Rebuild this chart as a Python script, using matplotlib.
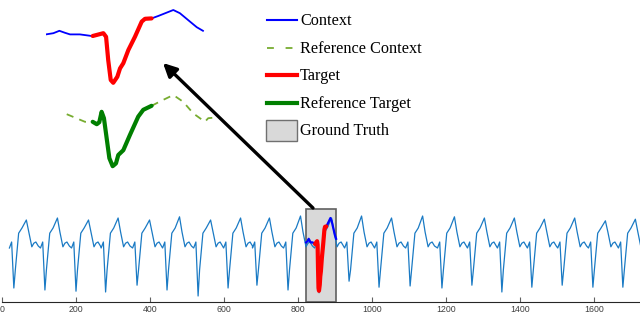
import numpy as np
import matplotlib.pyplot as plt
from matplotlib.lines import Line2D
from matplotlib.patches import Rectangle

# ---- long ECG trace: one entry per beat (trough position, trough depth, peak height)
beat_t = [32, 116, 200, 280, 365, 446, 530, 611, 689, 773, 857,
          938, 1019, 1103, 1189, 1270, 1351, 1432, 1514, 1597, 1678]
beat_min = [-1.0, -1.05, -1.08, -1.1, -0.93, -1.05, -1.2, -1.0, -0.93, -1.05, -1.12,
            -0.83, -0.98, -0.95, -1.0, -0.93, -1.1, -0.98, -0.93, -0.98, -0.98]
beat_max = [0.7, 0.75, 0.7, 0.75, 0.7, 0.78, 0.7, 0.75, 0.75, 0.8, 0.75,
            0.8, 0.75, 0.8, 0.78, 0.75, 0.75, 0.72, 0.75, 0.68, 0.72]
# shape of a beat around its trough (offset, value); trough / peak filled per beat
pre_dt, pre_v = [-12, -6], [0.0, 0.15]
rise_dt, rise_v = [4, 13, 22], [-0.55, 0.37, 0.5]
peak_dt = 33.8
tail_dt, tail_v = [40.5, 48.6, 54, 59.5, 66], [0.4, 0.03, 0.12, 0.15, 0.05]

# ---- ground truth window and zoomed pieces (offset inside window, value)
gt_start, gt_end = 822, 903
ctx1_t = [0, 3.8, 6.9, 9.8, 12.4, 17.5, 23.6, 24.1]
ctx1_v = [0.14, 0.17, 0.23, 0.18, 0.14, 0.14, 0.10, 0.10]
tgt_t = [24.1, 29.6, 31.0, 32.1, 33.4, 34.7, 36.8, 38.2, 39.9, 42.5, 45.9, 49.4, 51.1, 54.5]
tgt_v = [0.10, 0.17, 0.08, -0.50, -1.00, -1.07, -0.92, -0.71, -0.58, -0.25, 0.08, 0.46, 0.53, 0.54]
ctx2_t = [54.5, 57.9, 60.5, 65.7, 69.1, 74.3, 77.8, 81.0]
ctx2_v = [0.54, 0.60, 0.65, 0.75, 0.67, 0.46, 0.32, 0.23]

rctx1_t = [10.7, 20.1, 24.1]
rctx1_v = [0.22, 0.03, 0.03]
rtgt_t = [24.1, 26.2, 27.5, 28.7, 29.9, 31.3, 32.7, 34.4, 36.1, 37.3, 39.9, 43.3, 47.6, 50.2, 54.5]
rtgt_v = [0.03, -0.03, 0.02, 0.28, 0.12, -0.38, -0.88, -1.08, -1.01, -0.80, -0.68, -0.30, 0.16, 0.33, 0.43]
rctx2_t = [54.5, 59.7, 65.7, 70.8, 76.0, 82.0, 83.7, 88.1]
rctx2_v = [0.43, 0.56, 0.70, 0.53, 0.24, 0.03, 0.12, 0.14]

labels = ['Context', 'Reference Context', 'Target', 'Reference Target', 'Ground Truth']

c_sig = '#1A7AC4'
c_ctx = '#0000FF'
c_tgt = '#FF0000'
c_rtgt = '#007F00'
c_rctx = '#77AC30'

# build the long trace beat by beat
sig_t, sig_v = [], []
for t0, lo, hi in zip(beat_t, beat_min, beat_max):
    sig_t += [t0 + d for d in pre_dt] + [t0] + [t0 + d for d in rise_dt] + [t0 + peak_dt] + [t0 + d for d in tail_dt]
    sig_v += pre_v + [lo] + rise_v + [hi] + tail_v
sig_t = np.array(sig_t)
sig_v = np.array(sig_v)

fig = plt.figure(figsize=(6.4, 3.15), dpi=100)

# main axes
ax = fig.add_axes([2/640, 13/315, 638/640, 112/315])
ax.axvspan(gt_start, gt_end, ymin=0, ymax=0.83, facecolor='#D9D9D9', edgecolor='#606060', lw=1.2, zorder=1)
ax.plot(sig_t, sig_v, color=c_sig, lw=0.9, zorder=2)
ax.plot(gt_start + np.array(ctx1_t), ctx1_v, color=c_ctx, lw=1.6, zorder=3)
ax.plot(gt_start + np.array(ctx2_t), ctx2_v, color=c_ctx, lw=1.6, zorder=3)
ax.plot(gt_start + np.array(tgt_t), tgt_v, color=c_tgt, lw=3, zorder=4, solid_capstyle='round')
ax.set_xlim(0, 638/0.37)
ax.set_ylim(-1.35, 1.45)
for s in ['top', 'right', 'left']:
    ax.spines[s].set_visible(False)
ax.spines['bottom'].set_color('#262626')
ax.spines['bottom'].set_linewidth(0.8)
ax.set_yticks([])
ax.set_xticks(range(0, 1800, 200))
ax.tick_params(axis='x', direction='in', length=3.5, pad=2.5, labelsize=6.3,
               labelcolor='#404040', color='#606060')
for lab in ax.get_xticklabels():
    lab.set_family('Liberation Sans')

# zoomed context / target
ax1 = fig.add_axes([46/640, (315-88)/315, 174.4/640, 84/315])
ax1.plot(ctx1_t, ctx1_v, color=c_ctx, lw=1.3)
ax1.plot(ctx2_t, ctx2_v, color=c_ctx, lw=1.3)
ax1.plot(tgt_t, tgt_v, color=c_tgt, lw=3, solid_capstyle='round')
ax2 = fig.add_axes([46/640, (315-171)/315, 174.4/640, 84/315])
ax2.plot(rctx1_t, rctx1_v, color=c_rctx, lw=1.3, dashes=(4, 3.5))
ax2.plot(rctx2_t, rctx2_v, color=c_rctx, lw=1.3, dashes=(4, 3.5))
ax2.plot(rtgt_t, rtgt_v, color=c_rtgt, lw=3, solid_capstyle='round')
for a in (ax1, ax2):
    a.set_xlim(0, 90)
    a.set_ylim(-1.2, 0.9)
    a.axis('off')

# overlay in pixel units for arrow and legend
ov = fig.add_axes([0, 0, 1, 1], zorder=10)
ov.set_xlim(0, 640)
ov.set_ylim(315, 0)
ov.axis('off')
ov.annotate('', xy=(163, 63), xytext=(313, 208),
            arrowprops=dict(arrowstyle='-|>', lw=2.4, color='black', mutation_scale=20,
                            shrinkA=0, shrinkB=0))

rows = [20, 48, 75, 103, 130]
ov.add_line(Line2D([267, 297], [rows[0]] * 2, color=c_ctx, lw=1.5))
ov.add_line(Line2D([267, 297], [rows[1]] * 2, color=c_rctx, lw=1.3, dashes=(3.8, 6.5)))
ov.add_line(Line2D([267, 297], [rows[2]] * 2, color=c_tgt, lw=3))
ov.add_line(Line2D([267, 297], [rows[3]] * 2, color=c_rtgt, lw=3))
ov.add_patch(Rectangle((266, 119.5), 31, 21.5, facecolor='#D9D9D9', edgecolor='#707070', lw=1))
for y, lab in zip(rows, labels):
    ov.text(300, y + 5, lab, fontsize=11.7, family='Liberation Serif', va='baseline', ha='left')

fig.savefig('out.png', dpi=100)
